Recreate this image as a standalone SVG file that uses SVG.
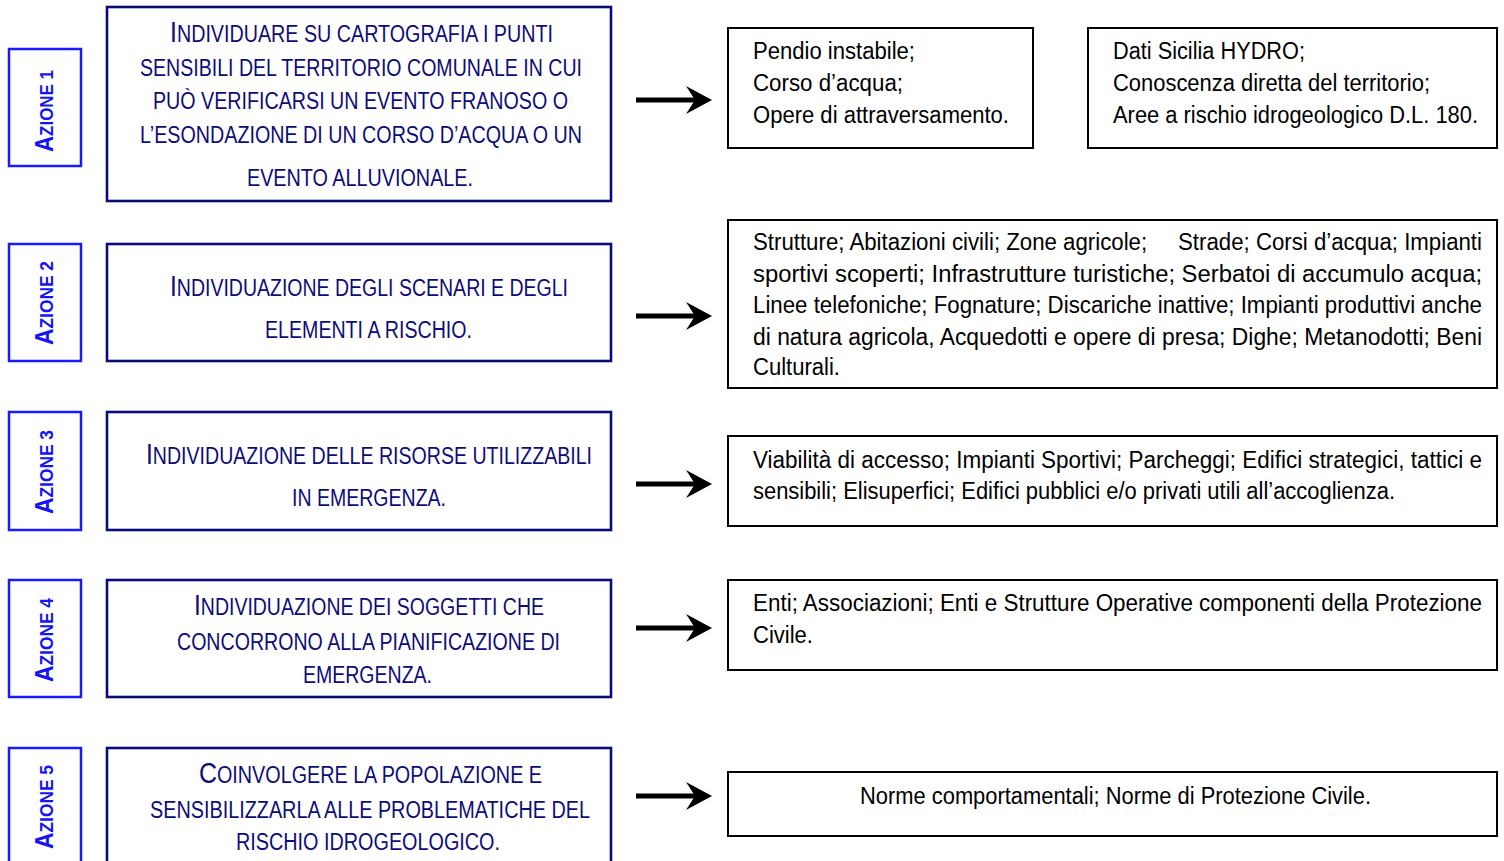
<svg xmlns="http://www.w3.org/2000/svg" width="1504" height="861" viewBox="0 0 1504 861">
<defs>
<style>
.az{fill:#fff;stroke:#1a1aff;stroke-width:2.5}
.mb{fill:#fff;stroke:#0a0a7e;stroke-width:2.6}
.rb{fill:#fff;stroke:#000;stroke-width:2}
.azt{font-family:"Liberation Sans",Arial,sans-serif;font-weight:bold;font-size:19px;fill:#1414f5}
.azt .b{font-size:25px}
.mt{font-family:"Liberation Sans",Arial,sans-serif;font-size:23px;fill:#0c0c7a}
.mt .b{font-size:29px}
.rt{font-family:"Liberation Sans",Arial,sans-serif;font-size:23px;fill:#000}
.arr{stroke:#000;stroke-width:5}
</style>
</defs>
<rect width="1504" height="861" fill="#fff"/>

<g id="azione1">
<rect class="az" x="9" y="49" width="72" height="117"/>
<text class="azt" transform="translate(53,111) rotate(-90)" text-anchor="middle" textLength="82" lengthAdjust="spacingAndGlyphs"><tspan class="b">A</tspan>ZIONE 1</text>
</g>
<g id="azione2">
<rect class="az" x="9" y="244" width="72" height="117"/>
<text class="azt" transform="translate(53,303) rotate(-90)" text-anchor="middle" textLength="84" lengthAdjust="spacingAndGlyphs"><tspan class="b">A</tspan>ZIONE 2</text>
</g>
<g id="azione3">
<rect class="az" x="9" y="412" width="72" height="118"/>
<text class="azt" transform="translate(53,472) rotate(-90)" text-anchor="middle" textLength="84" lengthAdjust="spacingAndGlyphs"><tspan class="b">A</tspan>ZIONE 3</text>
</g>
<g id="azione4">
<rect class="az" x="9" y="580" width="72" height="117"/>
<text class="azt" transform="translate(53,640) rotate(-90)" text-anchor="middle" textLength="84" lengthAdjust="spacingAndGlyphs"><tspan class="b">A</tspan>ZIONE 4</text>
</g>
<g id="azione5">
<rect class="az" x="9" y="748" width="72" height="130"/>
<text class="azt" transform="translate(53,807) rotate(-90)" text-anchor="middle" textLength="84" lengthAdjust="spacingAndGlyphs"><tspan class="b">A</tspan>ZIONE 5</text>
</g>

<g id="main1">
<rect class="mb" x="107" y="7" width="504" height="194"/>
<text class="mt" x="361.5" y="42" text-anchor="middle" textLength="383" lengthAdjust="spacingAndGlyphs"><tspan class="b">I</tspan>NDIVIDUARE SU CARTOGRAFIA I PUNTI</text>
<text class="mt" x="361" y="76" text-anchor="middle" textLength="442" lengthAdjust="spacingAndGlyphs">SENSIBILI DEL TERRITORIO COMUNALE IN CUI</text>
<text class="mt" x="360.5" y="109" text-anchor="middle" textLength="415" lengthAdjust="spacingAndGlyphs">PUÒ VERIFICARSI UN EVENTO FRANOSO O</text>
<text class="mt" x="361" y="143" text-anchor="middle" textLength="442" lengthAdjust="spacingAndGlyphs">L’ESONDAZIONE DI UN CORSO D’ACQUA O UN</text>
<text class="mt" x="360" y="186" text-anchor="middle" textLength="226" lengthAdjust="spacingAndGlyphs">EVENTO ALLUVIONALE.</text>
</g>
<g id="main2">
<rect class="mb" x="107" y="244" width="504" height="117"/>
<text class="mt" x="369" y="296" text-anchor="middle" textLength="398" lengthAdjust="spacingAndGlyphs"><tspan class="b">I</tspan>NDIVIDUAZIONE DEGLI SCENARI E DEGLI</text>
<text class="mt" x="368.5" y="338" text-anchor="middle" textLength="207" lengthAdjust="spacingAndGlyphs">ELEMENTI A RISCHIO.</text>
</g>
<g id="main3">
<rect class="mb" x="107" y="412" width="504" height="118"/>
<text class="mt" x="369" y="464" text-anchor="middle" textLength="446" lengthAdjust="spacingAndGlyphs"><tspan class="b">I</tspan>NDIVIDUAZIONE DELLE RISORSE UTILIZZABILI</text>
<text class="mt" x="369" y="506" text-anchor="middle" textLength="154" lengthAdjust="spacingAndGlyphs">IN EMERGENZA.</text>
</g>
<g id="main4">
<rect class="mb" x="107" y="580" width="504" height="117"/>
<text class="mt" x="369" y="615" text-anchor="middle" textLength="350" lengthAdjust="spacingAndGlyphs"><tspan class="b">I</tspan>NDIVIDUAZIONE DEI SOGGETTI CHE</text>
<text class="mt" x="368.5" y="650" text-anchor="middle" textLength="383" lengthAdjust="spacingAndGlyphs">CONCORRONO ALLA PIANIFICAZIONE DI</text>
<text class="mt" x="367.5" y="683" text-anchor="middle" textLength="129" lengthAdjust="spacingAndGlyphs">EMERGENZA.</text>
</g>
<g id="main5">
<rect class="mb" x="107" y="748" width="504" height="130"/>
<text class="mt" x="370.5" y="783" text-anchor="middle" textLength="343" lengthAdjust="spacingAndGlyphs"><tspan class="b">C</tspan>OINVOLGERE LA POPOLAZIONE E</text>
<text class="mt" x="370" y="818" text-anchor="middle" textLength="440" lengthAdjust="spacingAndGlyphs">SENSIBILIZZARLA ALLE PROBLEMATICHE DEL</text>
<text class="mt" x="368" y="850" text-anchor="middle" textLength="264" lengthAdjust="spacingAndGlyphs">RISCHIO IDROGEOLOGICO.</text>
</g>

<g id="connectors">
<g id="arrow1"><line class="arr" x1="636" y1="100" x2="700" y2="100"/><polygon points="712,100 686,86 695,100 686,114"/></g>
<g id="arrow2"><line class="arr" x1="636" y1="316" x2="700" y2="316"/><polygon points="712,316 686,302 695,316 686,330"/></g>
<g id="arrow3"><line class="arr" x1="636" y1="484" x2="700" y2="484"/><polygon points="712,484 686,470 695,484 686,498"/></g>
<g id="arrow4"><line class="arr" x1="636" y1="628" x2="700" y2="628"/><polygon points="712,628 686,614 695,628 686,642"/></g>
<g id="arrow5"><line class="arr" x1="636" y1="796" x2="700" y2="796"/><polygon points="712,796 686,782 695,796 686,810"/></g>
</g>

<g id="right1a">
<rect class="rb" x="728" y="28" width="305" height="120"/>
<text class="rt" x="753" y="59" textLength="162" lengthAdjust="spacingAndGlyphs">Pendio instabile;</text>
<text class="rt" x="753" y="91" textLength="150" lengthAdjust="spacingAndGlyphs">Corso d’acqua;</text>
<text class="rt" x="753" y="123" textLength="256" lengthAdjust="spacingAndGlyphs">Opere di attraversamento.</text>
</g>
<g id="right1b">
<rect class="rb" x="1088" y="28" width="409" height="120"/>
<text class="rt" x="1113" y="59" textLength="192" lengthAdjust="spacingAndGlyphs">Dati Sicilia HYDRO;</text>
<text class="rt" x="1113" y="91" textLength="317" lengthAdjust="spacingAndGlyphs">Conoscenza diretta del territorio;</text>
<text class="rt" x="1113" y="123" textLength="365" lengthAdjust="spacingAndGlyphs">Aree a rischio idrogeologico D.L. 180.</text>
</g>
<g id="right2">
<rect class="rb" x="728" y="220" width="769" height="168"/>
<text class="rt" x="753" y="250" textLength="729" lengthAdjust="spacingAndGlyphs" xml:space="preserve">Strutture; Abitazioni civili; Zone agricole;     Strade; Corsi d’acqua; Impianti</text>
<text class="rt" x="753" y="282" textLength="729" lengthAdjust="spacingAndGlyphs">sportivi scoperti; Infrastrutture turistiche; Serbatoi di accumulo acqua;</text>
<text class="rt" x="753" y="313" textLength="729" lengthAdjust="spacingAndGlyphs">Linee telefoniche; Fognature; Discariche inattive; Impianti produttivi anche</text>
<text class="rt" x="753" y="345" textLength="729" lengthAdjust="spacingAndGlyphs">di natura agricola, Acquedotti e opere di presa; Dighe; Metanodotti; Beni</text>
<text class="rt" x="753" y="375" textLength="87" lengthAdjust="spacingAndGlyphs">Culturali.</text>
</g>
<g id="right3">
<rect class="rb" x="728" y="436" width="769" height="90"/>
<text class="rt" x="753" y="468" textLength="729" lengthAdjust="spacingAndGlyphs">Viabilità di accesso; Impianti Sportivi; Parcheggi; Edifici strategici, tattici e</text>
<text class="rt" x="753" y="499" textLength="642" lengthAdjust="spacingAndGlyphs">sensibili; Elisuperfici; Edifici pubblici e/o privati utili all’accoglienza.</text>
</g>
<g id="right4">
<rect class="rb" x="728" y="580" width="769" height="90"/>
<text class="rt" x="753" y="611" textLength="729" lengthAdjust="spacingAndGlyphs">Enti; Associazioni; Enti e Strutture Operative componenti della Protezione</text>
<text class="rt" x="753" y="643" textLength="60" lengthAdjust="spacingAndGlyphs">Civile.</text>
</g>
<g id="right5">
<rect class="rb" x="728" y="772" width="769" height="64"/>
<text class="rt" x="1115.5" y="804" text-anchor="middle" textLength="511" lengthAdjust="spacingAndGlyphs">Norme comportamentali; Norme di Protezione Civile.</text>
</g>
</svg>
